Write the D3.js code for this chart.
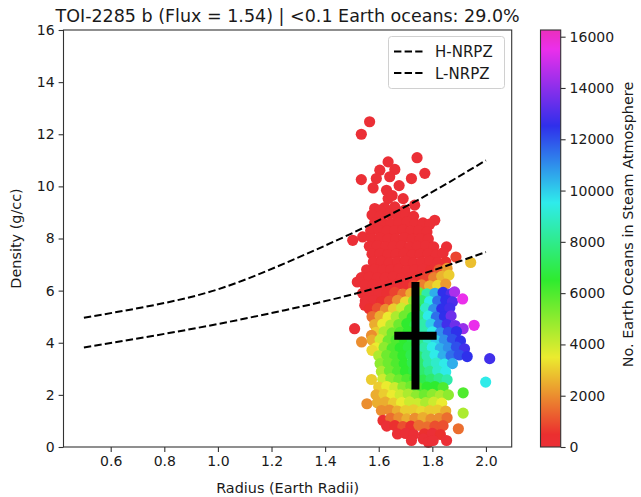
<!DOCTYPE html>
<html>
<head>
<meta charset="utf-8">
<script src="https://cdn.jsdelivr.net/npm/d3@7"></script>
<style>
  body { margin: 0; background: #fff; }
  svg { display: block; }
  text { font-family: "DejaVu Sans", sans-serif; fill: #1a1a1a; }
</style>
</head>
<body>
<svg id="chart" width="641" height="497"></svg>
<script>
// ---- axis ticks ----
const radiusTicks = [0.6, 0.8, 1.0, 1.2, 1.4, 1.6, 1.8, 2.0];
const densityTicks = [0, 2, 4, 6, 8, 10, 12, 14, 16];
const oceanTicks = [0, 2000, 4000, 6000, 8000, 10000, 12000, 14000, 16000];

// ---- no-runaway-greenhouse density curves ----
const curveRadius = [0.5, 0.75, 1.0, 1.25, 1.5, 1.75, 2.0];
const hNrpz = [4.96, 5.42, 6.05, 7.05, 8.2, 9.5, 11.0];
const lNrpz = [3.82, 4.25, 4.72, 5.25, 5.85, 6.6, 7.48];

// ---- measured planet (radius ± err, density ± err) ----
const planetRadius = 1.737, planetRadiusErr = 0.079;
const planetDensity = 4.27, planetDensityErr = 2.065;

// ---- Monte Carlo draws: [radius, density, oceans in steam atmosphere] ----
const draws = [
  [1.566,12.48,0],[1.535,12.0,0],[1.743,11.1,0],[1.635,10.94,0],[1.604,10.62,0],[1.66,10.65,0],
  [1.772,10.5,0],[1.535,10.26,0],[1.591,10.3,0],[1.641,10.37,0],[1.722,10.3,0],[1.579,9.94,0],
  [1.629,9.85,0],[1.676,10.03,0],[1.635,9.53,0],[1.691,9.53,0],[1.585,9.15,0],[1.622,9.19,0],
  [1.66,9.21,0],[1.734,9.28,0],[1.697,9.09,0],[1.809,8.70,0],[1.604,9.09,0],[1.65,9.65,0],
  [1.575,8.9,0],[1.605,8.85,0],[1.64,8.95,0],[1.67,8.88,0],[1.70,8.92,0],[1.73,8.85,0],
  [1.585,8.6,0],[1.615,8.62,0],[1.645,8.58,0],[1.675,8.6,0],[1.705,8.63,0],[1.735,8.57,0],[1.765,8.6,0],[1.79,8.55,0],
  [1.57,8.3,0],[1.60,8.32,0],[1.63,8.28,0],[1.66,8.3,0],[1.69,8.33,0],[1.72,8.27,0],[1.75,8.3,0],[1.78,8.25,0],
  [1.503,7.93,0],[1.54,8.06,0],[1.575,8.0,0],[1.605,8.02,0],[1.635,7.98,0],[1.665,8.0,0],[1.695,8.03,0],[1.725,7.97,0],[1.755,8.0,0],[1.785,7.98,0],
  [1.565,7.7,0],[1.595,7.72,0],[1.625,7.68,0],[1.655,7.7,0],[1.685,7.73,0],[1.715,7.67,0],[1.745,7.7,0],[1.775,7.72,0],[1.805,7.68,0],[1.853,7.68,0],
  [1.575,7.4,0],[1.605,7.42,0],[1.635,7.38,0],[1.665,7.4,0],[1.695,7.43,0],[1.725,7.37,0],[1.755,7.4,0],[1.785,7.42,0],[1.815,7.38,0],[1.84,7.45,0],
  [1.58,7.1,0],[1.61,7.12,0],[1.64,7.08,0],[1.67,7.1,0],[1.70,7.13,0],[1.73,7.07,0],[1.76,7.1,0],[1.79,7.12,0],[1.82,7.08,0],[1.85,7.1,500],[1.888,7.29,800],[1.943,7.08,2800],
  [1.555,6.8,0],[1.585,6.82,0],[1.615,6.78,0],[1.645,6.8,0],[1.675,6.83,0],[1.705,6.77,0],[1.735,6.8,0],[1.765,6.82,0],[1.795,6.78,300],[1.825,6.8,1200],[1.855,6.85,2200],
  [1.535,6.5,0],[1.565,6.52,0],[1.595,6.48,0],[1.625,6.5,0],[1.655,6.53,0],[1.685,6.47,0],[1.715,6.5,0],[1.745,6.52,300],[1.775,6.48,800],[1.805,6.5,1800],[1.835,6.55,2600],[1.862,6.6,3000],
  [1.52,6.33,0],[1.55,6.2,0],[1.58,6.22,0],[1.61,6.18,0],[1.64,6.2,0],[1.67,6.23,0],[1.70,6.17,300],[1.73,6.2,800],[1.76,6.22,1800],[1.79,6.18,2600],[1.82,6.2,3200],[1.85,6.25,2200],
  [1.54,5.9,0],[1.57,5.92,0],[1.60,5.88,0],[1.63,5.9,200],[1.66,5.93,800],[1.69,5.87,1500],[1.72,5.9,2500],[1.75,5.92,5500],[1.78,5.88,8500],[1.81,5.9,10500],[1.84,5.93,12500],[1.87,5.88,13000],[1.883,5.95,14500],
  [1.55,5.6,0],[1.58,5.62,0],[1.61,5.58,400],[1.64,5.6,1000],[1.67,5.63,2000],[1.70,5.57,3200],[1.73,5.6,5000],[1.76,5.62,7500],[1.79,5.58,9500],[1.82,5.6,11500],[1.85,5.63,12500],[1.875,5.57,13000],[1.913,5.68,15500],
  [1.548,5.44,0],
  [1.565,5.3,500],[1.595,5.32,1000],[1.625,5.28,2000],[1.655,5.3,3000],[1.685,5.33,4000],[1.715,5.27,5500],[1.745,5.3,7000],[1.775,5.32,9000],[1.805,5.28,11000],[1.835,5.3,12500],[1.865,5.33,12800],
  [1.575,5.0,1500],[1.605,5.02,2500],[1.635,4.98,3500],[1.665,5.0,4500],[1.695,5.03,5500],[1.725,4.97,6500],[1.755,5.0,8000],[1.785,5.02,9500],[1.815,4.98,11500],[1.845,5.0,12500],[1.87,5.03,13500],
  [1.585,4.7,2500],[1.615,4.72,3500],[1.645,4.68,4500],[1.675,4.7,5500],[1.705,4.73,6500],[1.735,4.67,7000],[1.765,4.7,8500],[1.795,4.72,10000],[1.825,4.68,11500],[1.855,4.7,12800],[1.885,4.66,13500],[1.915,4.54,14200],[1.956,4.67,15500],
  [1.51,4.54,0],
  [1.59,4.4,3000],[1.62,4.42,4500],[1.65,4.38,5500],[1.68,4.4,6000],[1.71,4.43,6500],[1.74,4.37,7000],[1.77,4.4,8500],[1.80,4.42,9500],[1.83,4.38,11000],[1.86,4.4,12000],[1.89,4.43,12500],
  [1.573,4.28,2000],
  [1.575,4.1,2500],[1.605,4.12,4000],[1.635,4.08,5500],[1.665,4.1,6000],[1.695,4.13,6500],[1.725,4.07,7000],[1.755,4.1,8000],[1.785,4.12,9000],[1.815,4.08,10000],[1.845,4.1,11000],[1.875,4.13,12000],[1.905,4.07,12500],
  [1.536,4.03,2000],
  [1.59,3.8,3500],[1.62,3.82,5000],[1.65,3.78,6000],[1.68,3.8,6500],[1.71,3.83,6800],[1.74,3.77,7500],[1.77,3.8,8500],[1.80,3.82,9500],[1.83,3.78,10500],[1.86,3.8,11000],[1.89,3.83,12000],[1.92,3.77,12800],
  [1.575,3.71,3200],
  [1.60,3.5,4500],[1.63,3.52,5500],[1.66,3.48,6000],[1.69,3.5,6500],[1.72,3.53,7000],[1.75,3.47,7500],[1.78,3.5,8500],[1.81,3.52,9500],[1.84,3.48,10500],[1.87,3.5,11500],[1.90,3.53,12000],[1.93,3.47,12500],
  [2.014,3.39,12800],
  [1.605,3.2,5000],[1.635,3.22,5500],[1.665,3.18,6000],[1.695,3.2,6500],[1.725,3.23,7000],[1.755,3.17,7500],[1.785,3.2,8500],[1.815,3.22,9000],[1.845,3.18,9500],[1.875,3.2,10500],
  [1.61,2.9,4500],[1.64,2.92,5500],[1.67,2.88,6000],[1.70,2.9,6500],[1.73,2.93,6800],[1.76,2.87,7500],[1.79,2.9,8000],[1.82,2.92,9000],[1.85,2.88,9500],
  [1.573,2.59,3000],
  [1.615,2.6,4000],[1.645,2.62,5000],[1.675,2.58,5500],[1.705,2.6,6000],[1.735,2.63,6500],[1.765,2.57,7000],[1.795,2.6,7500],[1.825,2.62,8000],[1.855,2.58,8500],
  [1.999,2.49,9500],
  [1.60,2.3,3000],[1.63,2.32,3500],[1.66,2.28,4000],[1.69,2.3,5000],[1.72,2.33,5500],[1.75,2.27,6000],[1.78,2.3,6500],[1.81,2.32,6500],[1.84,2.28,6000],
  [1.915,2.08,6000],
  [1.59,2.0,2500],[1.62,2.02,3000],[1.65,1.98,3500],[1.68,2.0,4000],[1.71,2.03,4500],[1.74,1.97,5000],[1.77,2.0,5500],[1.80,2.02,5000],[1.83,1.98,4500],[1.86,2.0,5000],
  [1.556,1.66,2000],[1.595,1.7,2500],[1.625,1.72,2500],[1.655,1.68,3000],[1.685,1.7,3500],[1.715,1.73,4000],[1.745,1.67,4000],[1.775,1.7,4500],[1.805,1.72,4000],[1.835,1.68,3500],
  [1.61,1.4,2000],[1.64,1.42,2000],[1.67,1.38,2500],[1.70,1.4,3000],[1.73,1.43,3000],[1.76,1.37,3200],[1.79,1.4,3000],[1.82,1.42,3000],[1.85,1.38,2500],
  [1.915,1.30,4500],
  [1.616,1.02,300],[1.645,1.1,1500],[1.675,1.12,2000],[1.705,1.08,2500],[1.735,1.1,2000],[1.765,1.13,2500],[1.795,1.07,2000],[1.825,1.1,2000],[1.855,1.12,1500],
  [1.63,0.8,0],[1.66,0.82,500],[1.69,0.78,1000],[1.72,0.8,500],[1.75,0.83,1500],[1.78,0.77,1500],[1.81,0.8,1000],[1.84,0.82,1000],[1.897,0.7,1500],
  [1.67,0.5,0],[1.70,0.52,0],[1.73,0.48,0],[1.77,0.5,500],[1.80,0.52,0],[1.83,0.48,500],
  [1.722,0.25,0],[1.766,0.31,0],[1.785,0.18,0],[1.803,0.25,0],[1.853,0.25,0]
];
const oceanMax = 16261;

// ---- layout ----
const svg = d3.select("#chart");
const plot = { left: 63.5, right: 511.7, top: 30, bottom: 447 };
const cbar = { left: 540.5, width: 20.2 };

const x = d3.scaleLinear().domain([0.4239, 2.0961]).range([plot.left, plot.right]);
const y = d3.scaleLinear().domain([0, 16]).range([plot.bottom, plot.top]);
const yc = d3.scaleLinear().domain([0, oceanMax]).range([plot.bottom, plot.top]);

// rainbow colour map (red → yellow → green → cyan → blue → magenta), faded with alpha 0.8
const cmStops = [0, 0.03, 0.215, 0.4, 0.586, 0.77, 0.954, 1];
const cmRGB = [[1,0,0.04],[1,0,0],[1,1,0],[0,1,0],[0,1,1],[0,0,1],[1,0,1],[1,0,0.75]];
const alpha = 0.8, shade = 0.92;
const cmFaded = cmRGB.map(c => d3.rgb(...c.map(v => Math.round((v * alpha + (1 - alpha)) * 255 * shade))).toString());
const cmap = d3.scaleLinear().domain(cmStops).range(cmFaded).interpolate(d3.interpolateRgb).clamp(true);
const color = v => cmap(v / oceanMax);

// ---- scatter ----
svg.append("g").selectAll("circle").data(draws).join("circle")
  .attr("cx", d => x(d[0])).attr("cy", d => y(d[1])).attr("r", 5.6)
  .attr("fill", d => color(d[2]));

// ---- NRPZ curves ----
const line = d3.line().x(d => x(d[0])).y(d => y(d[1])).curve(d3.curveNatural);
[hNrpz, lNrpz].forEach(vals => {
  svg.append("path").datum(curveRadius.map((r, i) => [r, vals[i]]))
    .attr("d", line).attr("fill", "none").attr("stroke", "#000")
    .attr("stroke-width", 2).attr("stroke-dasharray", "7.4,3.2");
});

// ---- planet error cross ----
const cross = svg.append("g").attr("stroke", "#000").attr("stroke-width", 8);
cross.append("line")
  .attr("x1", x(planetRadius)).attr("x2", x(planetRadius))
  .attr("y1", y(planetDensity - planetDensityErr)).attr("y2", y(planetDensity + planetDensityErr));
cross.append("line")
  .attr("x1", x(planetRadius - planetRadiusErr)).attr("x2", x(planetRadius + planetRadiusErr))
  .attr("y1", y(planetDensity)).attr("y2", y(planetDensity));

// ---- axes frame and ticks ----
const axisColor = "#333";
svg.append("rect").attr("x", plot.left).attr("y", plot.top)
  .attr("width", plot.right - plot.left).attr("height", plot.bottom - plot.top)
  .attr("fill", "none").attr("stroke", axisColor).attr("stroke-width", 1.1);

const xAxis = svg.append("g").attr("transform", `translate(0,${plot.bottom})`)
  .call(d3.axisBottom(x).tickValues(radiusTicks).tickFormat(d3.format(".1f")).tickSize(4.9).tickPadding(4));
const yAxis = svg.append("g").attr("transform", `translate(${plot.left},0)`)
  .call(d3.axisLeft(y).tickValues(densityTicks).tickFormat(d3.format("d")).tickSize(4.9).tickPadding(4));
[xAxis, yAxis].forEach(g => {
  g.select(".domain").remove();
  g.selectAll(".tick line").attr("stroke", axisColor).attr("stroke-width", 1.1);
  g.selectAll(".tick text").attr("fill", "#1a1a1a").style("font-size", "14px").style("font-family", "DejaVu Sans");
});

// ---- colour bar ----
const defs = svg.append("defs");
const grad = defs.append("linearGradient").attr("id", "cbgrad")
  .attr("x1", 0).attr("y1", 1).attr("x2", 0).attr("y2", 0);
cmStops.forEach((s, i) => grad.append("stop").attr("offset", s).attr("stop-color", cmFaded[i]));
svg.append("rect").attr("x", cbar.left).attr("y", plot.top)
  .attr("width", cbar.width).attr("height", plot.bottom - plot.top)
  .attr("fill", "url(#cbgrad)").attr("stroke", axisColor).attr("stroke-width", 1.1);
const cAxis = svg.append("g").attr("transform", `translate(${cbar.left + cbar.width},0)`)
  .call(d3.axisRight(yc).tickValues(oceanTicks).tickFormat(d3.format("d")).tickSize(4.9).tickPadding(4));
cAxis.select(".domain").remove();
cAxis.selectAll(".tick line").attr("stroke", axisColor).attr("stroke-width", 1.1);
cAxis.selectAll(".tick text").attr("fill", "#1a1a1a").style("font-size", "14px").style("font-family", "DejaVu Sans");

// ---- labels ----
svg.append("text").attr("x", (plot.left + plot.right) / 2).attr("y", 22)
  .attr("text-anchor", "middle").style("font-size", "17.5px")
  .text("TOI-2285 b (Flux = 1.54) | <0.1 Earth oceans: 29.0%");
svg.append("text").attr("x", (plot.left + plot.right) / 2).attr("y", 493)
  .attr("text-anchor", "middle").style("font-size", "14.4px")
  .text("Radius (Earth Radii)");
svg.append("text").attr("transform", `translate(21,${(plot.top + plot.bottom) / 2}) rotate(-90)`)
  .attr("text-anchor", "middle").style("font-size", "14.4px")
  .text("Density (g/cc)");
svg.append("text").attr("transform", `translate(633,${(plot.top + plot.bottom) / 2 - 14}) rotate(-90)`)
  .attr("text-anchor", "middle").style("font-size", "14.4px")
  .text("No. Earth Oceans in Steam Atmosphere");

// ---- legend ----
const legendItems = ["H-NRPZ", "L-NRPZ"];
const lg = svg.append("g");
lg.append("rect").attr("x", 388.5).attr("y", 36.5).attr("width", 116).attr("height", 52).attr("rx", 3)
  .attr("fill", "#fff").attr("fill-opacity", 0.8).attr("stroke", "#d0d0d0").attr("stroke-width", 1);
legendItems.forEach((name, i) => {
  const cy = 51.5 + i * 21.5;
  lg.append("line").attr("x1", 394).attr("x2", 422.5).attr("y1", cy).attr("y2", cy)
    .attr("stroke", "#000").attr("stroke-width", 2).attr("stroke-dasharray", "7.4,3.2");
  lg.append("text").attr("x", 435).attr("y", cy + 5.5).style("font-size", "15px").text(name);
});
</script>
</body>
</html>
